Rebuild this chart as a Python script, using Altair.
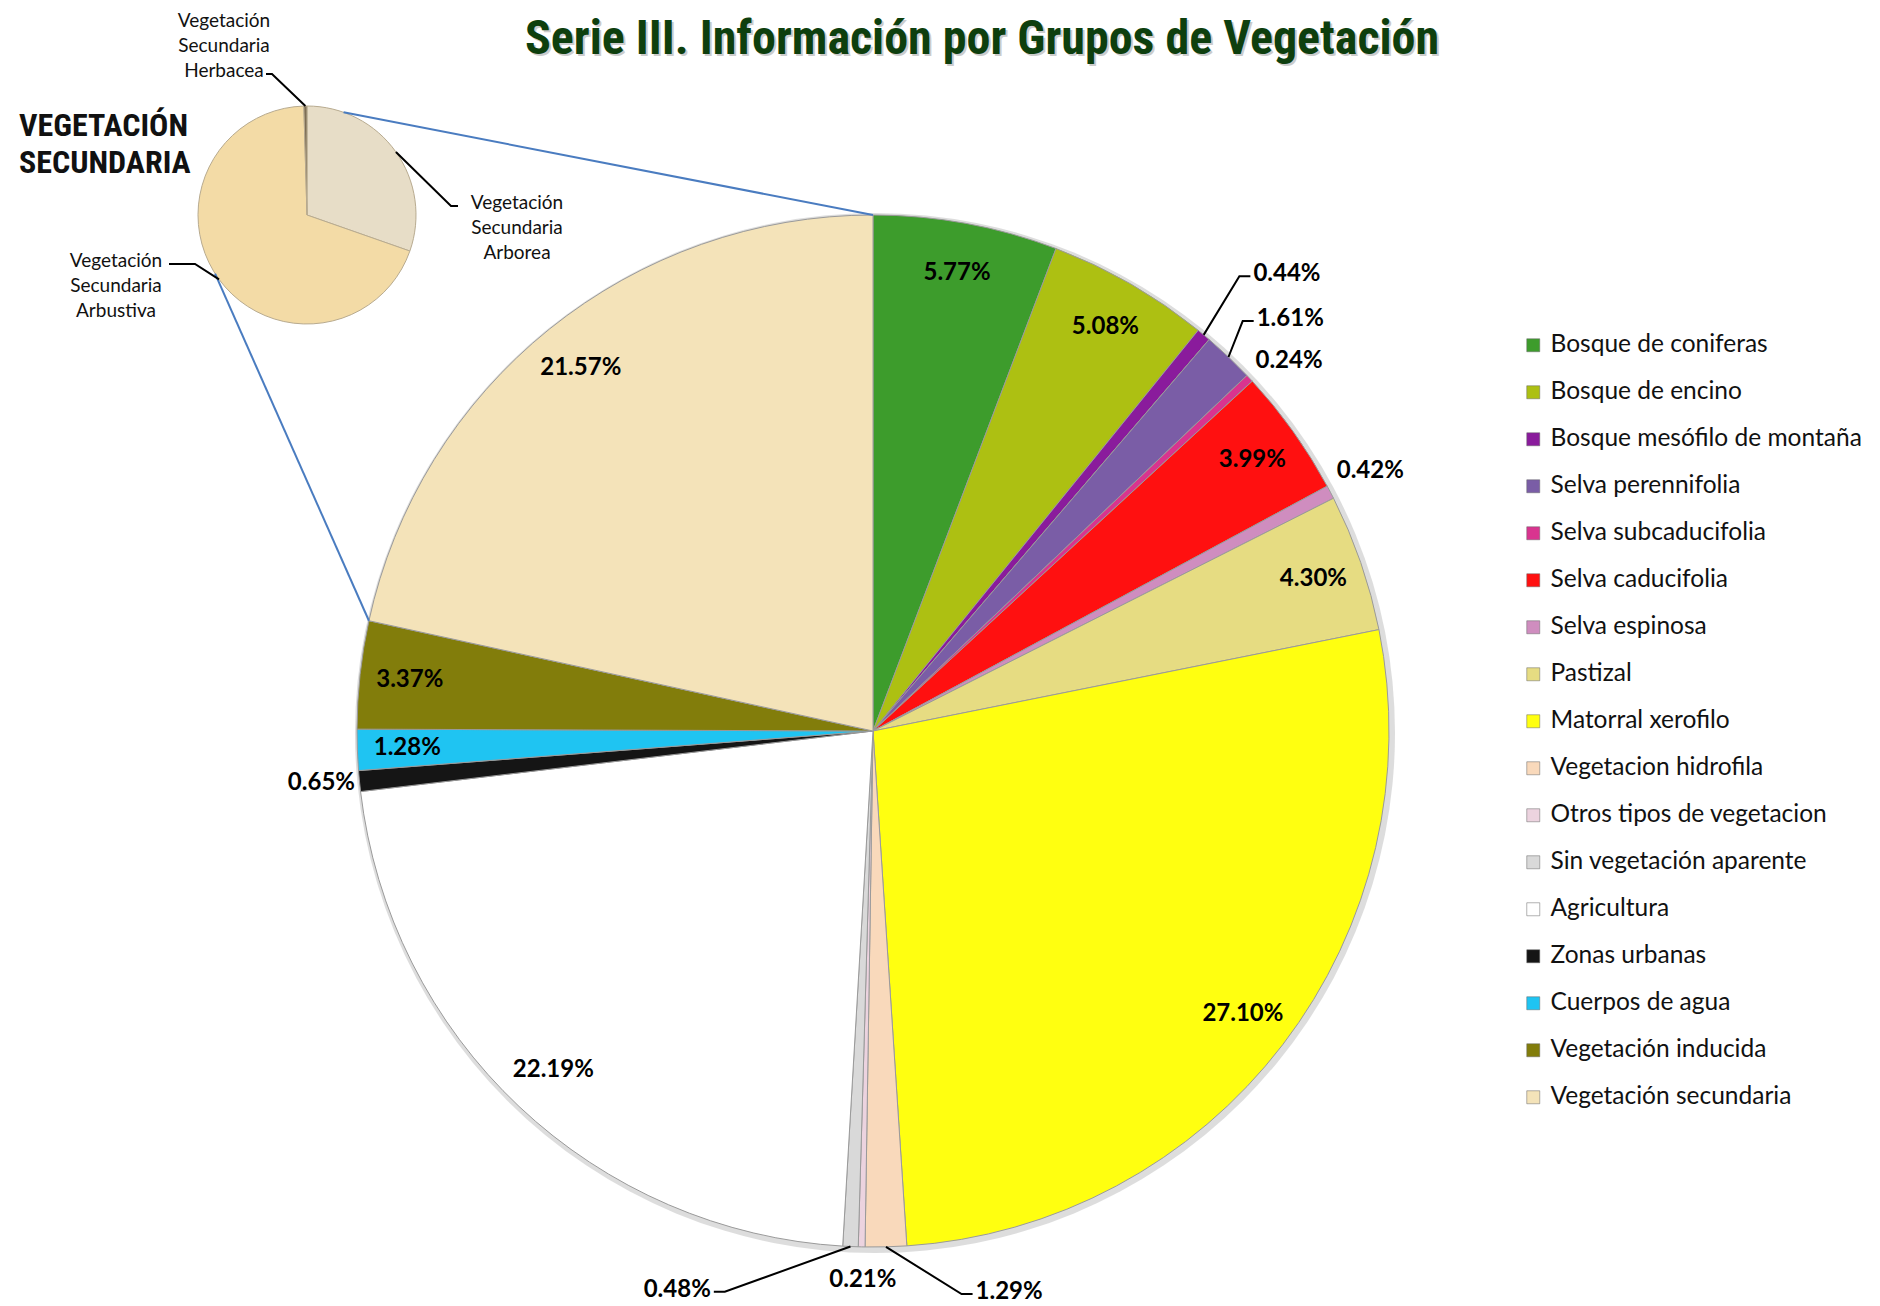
import math
import altair as alt
import pandas as pd

# ---------------- data ----------------
categories = [
    "Bosque de coniferas", "Bosque de encino", "Bosque mesófilo de montaña",
    "Selva perennifolia", "Selva subcaducifolia", "Selva caducifolia",
    "Selva espinosa", "Pastizal", "Matorral xerofilo", "Vegetacion hidrofila",
    "Otros tipos de vegetacion", "Sin vegetación aparente", "Agricultura",
    "Zonas urbanas", "Cuerpos de agua", "Vegetación inducida",
    "Vegetación secundaria",
]
percentages = [5.77, 5.08, 0.44, 1.61, 0.24, 3.99, 0.42, 4.30, 27.10, 1.29,
               0.21, 0.48, 22.19, 0.65, 1.28, 3.37, 21.57]
colors = ["#3d9c2c", "#adc012", "#8a1b9c", "#7a5da6", "#d9348f", "#ff1010",
          "#cf8dbf", "#e6dc82", "#ffff10", "#f9d9bb", "#ecd3df", "#d9d9d9",
          "#ffffff", "#151515", "#1fc4f2", "#827d0b", "#f4e3b9"]

sec_categories = ["Vegetación\nSecundaria\nArborea",
                  "Vegetación\nSecundaria\nArbustiva",
                  "Vegetación\nSecundaria\nHerbacea"]
sec_values = [6.55, 14.92, 0.10]
sec_colors = ["#e7ddc7", "#f3dba6", "#7d6e55"]

title_text = "Serie III. Información por Grupos de Vegetación"
inset_title = "VEGETACIÓN\nSECUNDARIA"

# ---------------- layout ----------------
W, H = 1864, 1298
CX, CY, R = 865, 723, 516          # main pie
SCX, SCY, SR = 299, 207, 109       # secondary pie
LABEL_R = 466
FONT = "Lato"
NARROW = "Liberation Sans Narrow, Roboto Condensed, Arial Narrow, Liberation Sans"


def polar(cx, cy, r, deg):
    a = math.radians(deg)
    return cx + r * math.sin(a), cy - r * math.cos(a)


total = sum(percentages)
mids = []
acc = 0.0
for v in percentages:
    mids.append((acc + v / 2) / total * 360)
    acc += v
start_sec = (total - percentages[-1]) / total * 360

# outside labels: radius, angle shift from the slice middle, leader side
outside = {
    "Bosque mesófilo de montaña": dict(r=584, shift=-1.0, side="left"),
    "Selva perennifolia": dict(r=552, shift=-1.5, side="left"),
    "Selva subcaducifolia": dict(r=557, shift=1.45),
    "Selva espinosa": dict(r=561, shift=0.0),
    "Vegetacion hidrofila": dict(r=570, shift=-7.5, side="left"),
    "Otros tipos de vegetacion": dict(r=549, shift=-0.2),
    "Sin vegetación aparente": dict(r=580, shift=12.3, side="right"),
    "Zonas urbanas": dict(r=554, shift=0.2),
}

main_df = pd.DataFrame({
    "cat": categories,
    "value": percentages,
    "idx": list(range(len(categories))),
})
main_df["inner_label"] = [("" if c in outside else f"{v:.2f}%")
                          for c, v in zip(categories, percentages)]

out_rows, line_rows = [], []
for i, c in enumerate(categories):
    if c not in outside:
        continue
    o = outside[c]
    lab = f"{percentages[i]:.2f}%"
    ex, ey = polar(CX, CY, o["r"], mids[i] + o["shift"])
    if "side" in o:
        sx, sy = polar(CX, CY, R, mids[i])
        sgn = 1 if o["side"] == "left" else -1
        hx = ex + sgn * 11
        line_rows += [dict(lid=c, o=0, x=sx, y=sy), dict(lid=c, o=1, x=ex, y=ey),
                      dict(lid=c, o=2, x=hx, y=ey)]
        out_rows.append(dict(t=lab, x=ex + sgn * 14, y=ey - 2, al=o["side"]))
    else:
        out_rows.append(dict(t=lab, x=ex, y=ey, al="center"))

# secondary pie labels and leaders
sec_df = pd.DataFrame({"cat": sec_categories, "value": sec_values,
                       "col": sec_colors, "idx": [0, 1, 2]})
stot = sum(sec_values)
smids, acc = [], 0.0
for v in sec_values:
    smids.append((acc + v / 2) / stot * 360)
    acc += v

# first-line anchor of each three-line label
sec_label_pos = [(509, 195), (108, 253), (216, 13)]
sec_leaders = [
    [(SR, smids[0]), (443, 198), (450, 198)],
    [(SR, smids[1]), (187, 256), (161, 256)],
    [(SR, smids[2]), (264, 66), (258, 66)],
]
for k, pts in enumerate(sec_leaders):
    r0, a0 = pts[0]
    x0, y0 = polar(SCX, SCY, r0, a0)
    line_rows.append(dict(lid=f"s{k}", o=0, x=x0, y=y0))
    for j, (px, py) in enumerate(pts[1:]):
        line_rows.append(dict(lid=f"s{k}", o=j + 1, x=px, y=py))

sec_lab_df = pd.DataFrame({"t": sec_categories,
                           "x": [p[0] for p in sec_label_pos],
                           "y": [p[1] for p in sec_label_pos]})

# blue connectors between pies
c1a = polar(SCX, SCY, SR, 19.6)
c1b = polar(CX, CY, R, 0)
c2a = polar(SCX, SCY, SR, 237.5)
c2b = polar(CX, CY, R, start_sec)
conn_df = pd.DataFrame([
    dict(lid="a", o=0, x=c1a[0], y=c1a[1]), dict(lid="a", o=1, x=c1b[0], y=c1b[1]),
    dict(lid="b", o=0, x=c2a[0], y=c2a[1]), dict(lid="b", o=1, x=c2b[0], y=c2b[1]),
])

lines_df = pd.DataFrame(line_rows)
out_df = pd.DataFrame(out_rows)

XN = alt.X("x:Q", scale=None, axis=None)
YN = alt.Y("y:Q", scale=None, axis=None)

# ---------------- layers ----------------
shadow = alt.Chart(pd.DataFrame({"v": [1]})).mark_arc(
    outerRadius=R + 4, fill="#cfcfcf", opacity=0.7
).encode(theta="v:Q", x=alt.value(CX + 2), y=alt.value(CY + 2))

main_pie = alt.Chart(main_df).mark_arc(
    outerRadius=R, stroke="#9a9a9a", strokeWidth=1
).encode(
    theta=alt.Theta("value:Q", stack=True),
    order=alt.Order("idx:Q"),
    color=alt.Color("cat:N", scale=alt.Scale(domain=categories, range=colors),
                    legend=alt.Legend(
                        orient="none", legendX=1513, legendY=325, title=None,
                        labelFont=FONT, labelFontSize=24.5, labelColor="#111111",
                        symbolType="square", symbolSize=169,
                        symbolStrokeWidth=0.5, symbolStrokeColor="#666666",
                        rowPadding=22, labelOffset=5, padding=0,
                        labelLimit=0)),
    x=alt.value(CX), y=alt.value(CY),
)

inner_text = alt.Chart(main_df).mark_text(
    radius=LABEL_R, font=FONT, fontWeight="bold", fontSize=24, color="black"
).encode(
    theta=alt.Theta("value:Q", stack=True),
    order=alt.Order("idx:Q"),
    text="inner_label:N",
    x=alt.value(CX), y=alt.value(CY),
)

sec_pie = alt.Chart(sec_df).mark_arc(
    outerRadius=SR, stroke="#b8ab90", strokeWidth=1
).encode(
    theta=alt.Theta("value:Q", stack=True),
    order=alt.Order("idx:Q"),
    fill=alt.Fill("col:N", scale=None),
    x=alt.value(SCX), y=alt.value(SCY),
)

leaders = alt.Chart(lines_df).mark_line(color="black", strokeWidth=2).encode(
    x=XN, y=YN, detail="lid:N", order="o:Q")

connectors = alt.Chart(conn_df).mark_line(color="#4a7cc0", strokeWidth=2).encode(
    x=XN, y=YN, detail="lid:N", order="o:Q")

out_layers = []
for al in ["left", "right", "center"]:
    out_layers.append(
        alt.Chart(out_df).transform_filter(alt.datum.al == al).mark_text(
            align=al, baseline="middle", font=FONT, fontWeight="bold",
            fontSize=24, color="black"
        ).encode(x=XN, y=YN, text="t:N")
    )

sec_labels = alt.Chart(sec_lab_df).mark_text(
    align="center", baseline="middle", font=FONT, fontSize=19,
    color="#111111", lineBreak="\n", lineHeight=25
).encode(x=XN, y=YN, text="t:N")

inset_lab = alt.Chart(pd.DataFrame({"t": [inset_title]})).mark_text(
    align="left", baseline="middle", font=NARROW, fontWeight="bold",
    fontSize=32, color="#111111", lineBreak="\n", lineHeight=37
).encode(text="t:N", x=alt.value(11), y=alt.value(118))

title_shadow = alt.Chart(pd.DataFrame({"t": [title_text]})).mark_text(
    align="center", baseline="alphabetic", font=NARROW, fontWeight="bold",
    fontSize=48, color="#9a9a9a", opacity=0.5
).encode(text="t:N", x=alt.value(976), y=alt.value(48))

title = alt.Chart(pd.DataFrame({"t": [title_text]})).mark_text(
    align="center", baseline="alphabetic", font=NARROW, fontWeight="bold",
    fontSize=48, color="#0e3f0e"
).encode(text="t:N", x=alt.value(974), y=alt.value(46))

chart = alt.layer(
    shadow, main_pie, inner_text, sec_pie, connectors, leaders,
    *out_layers, sec_labels, inset_lab, title_shadow, title
).resolve_scale(theta="independent").properties(
    width=W, height=H, autosize="none", padding=0
).configure_view(stroke=None)

chart.save("out.html", embed_options={"renderer": "svg", "actions": False})
